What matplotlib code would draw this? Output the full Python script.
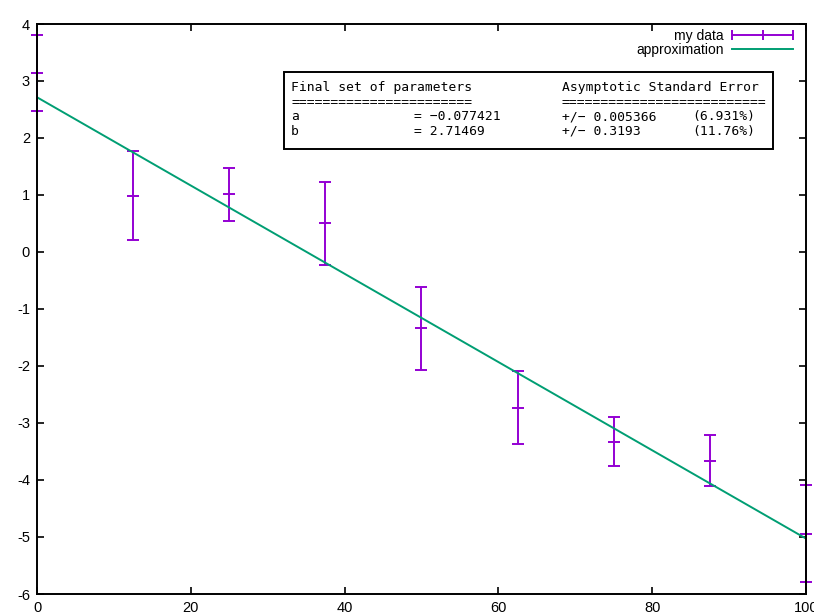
import matplotlib.pyplot as plt
import numpy as np
from matplotlib.lines import Line2D
from matplotlib.patches import Rectangle

xdata = [0, 12.5, 25, 37.5, 50, 62.5, 75, 87.5, 100]
ydata = [3.14, 0.99, 1.01, 0.50, -1.34, -2.73, -3.33, -3.66, -4.94]
yerr = [0.66, 0.78, 0.46, 0.72, 0.73, 0.64, 0.43, 0.45, 0.85]

# fitted line y = a*x + b
a = -0.077421
b = 2.71469

xticks = [0, 20, 40, 60, 80, 100]
yticks = [-6, -5, -4, -3, -2, -1, 0, 1, 2, 3, 4]

# fit report table, row by row
fit_rows = [["Final set of parameters", "", "Asymptotic Standard Error", ""],
            ["=" * 23, "", "=" * 26, ""],
            ["a", "= \u22120.077421", "+/\u2212 0.005366", "(6.931%)"],
            ["b", "= 2.71469", "+/\u2212 0.3193", "(11.76%)"]]
col_px = [291, 414, 562, 692]
row_px = [91, 105.7, 120.4, 135]

purple = '#9400d3'
green = '#009e73'

plt.rcParams['font.family'] = ['Liberation Sans', 'DejaVu Sans']
plt.rcParams['axes.unicode_minus'] = False

fig = plt.figure(figsize=(8.14, 6.15), dpi=100)
ax = fig.add_axes([37/814, 1 - 594/615, (806 - 37)/814, (594 - 24)/615])

ax.errorbar(xdata, ydata, yerr=yerr, fmt='none', ecolor=purple, elinewidth=1.4,
            capsize=4.3, capthick=1.4, clip_on=False, zorder=3)
ax.plot(xdata, ydata, linestyle='none', marker='_', markersize=8.6,
        markeredgewidth=1.4, color=purple, clip_on=False, zorder=3)

xs = np.array([0, 100])
ax.plot(xs, a*xs + b, color=green, linewidth=1.4, zorder=4)

ax.set_xlim(0, 100)
ax.set_ylim(-6, 4)
ax.set_xticks(xticks)
ax.set_yticks(yticks)
ax.tick_params(direction='in', length=5, width=1.2, top=True, right=True,
               labelsize=10.5, pad=5)
for s in ax.spines.values():
    s.set_linewidth(1.4)
    s.set_zorder(5)

# legend (gnuplot style: text first, sample to the right)
h_data = Line2D([], [], color=purple, linewidth=1.4, marker='|', markersize=7,
                markeredgewidth=1.4)
h_fit = Line2D([], [], color=green, linewidth=1.4)
leg = ax.legend([h_data, h_fit], ['my data', 'approximation'], loc='upper right',
                bbox_to_anchor=(0.9996, 1.006), frameon=False, markerfirst=False,
                numpoints=3, fontsize=10, handlelength=5.0, handletextpad=0.3,
                labelspacing=0.0, borderaxespad=0.2)

# fit results box
fig.patches.append(Rectangle((284/814, 1 - 149/615), (773 - 284)/814, (149 - 72)/615,
                             transform=fig.transFigure, fill=False,
                             edgecolor='black', linewidth=1.4))
for row, py in zip(fit_rows, row_px):
    for txt, px in zip(row, col_px):
        if txt:
            fig.text(px/814, 1 - py/615, txt, family='DejaVu Sans Mono',
                     fontsize=9.4, va='baseline', ha='left')

fig.savefig('out.png', dpi=100)
